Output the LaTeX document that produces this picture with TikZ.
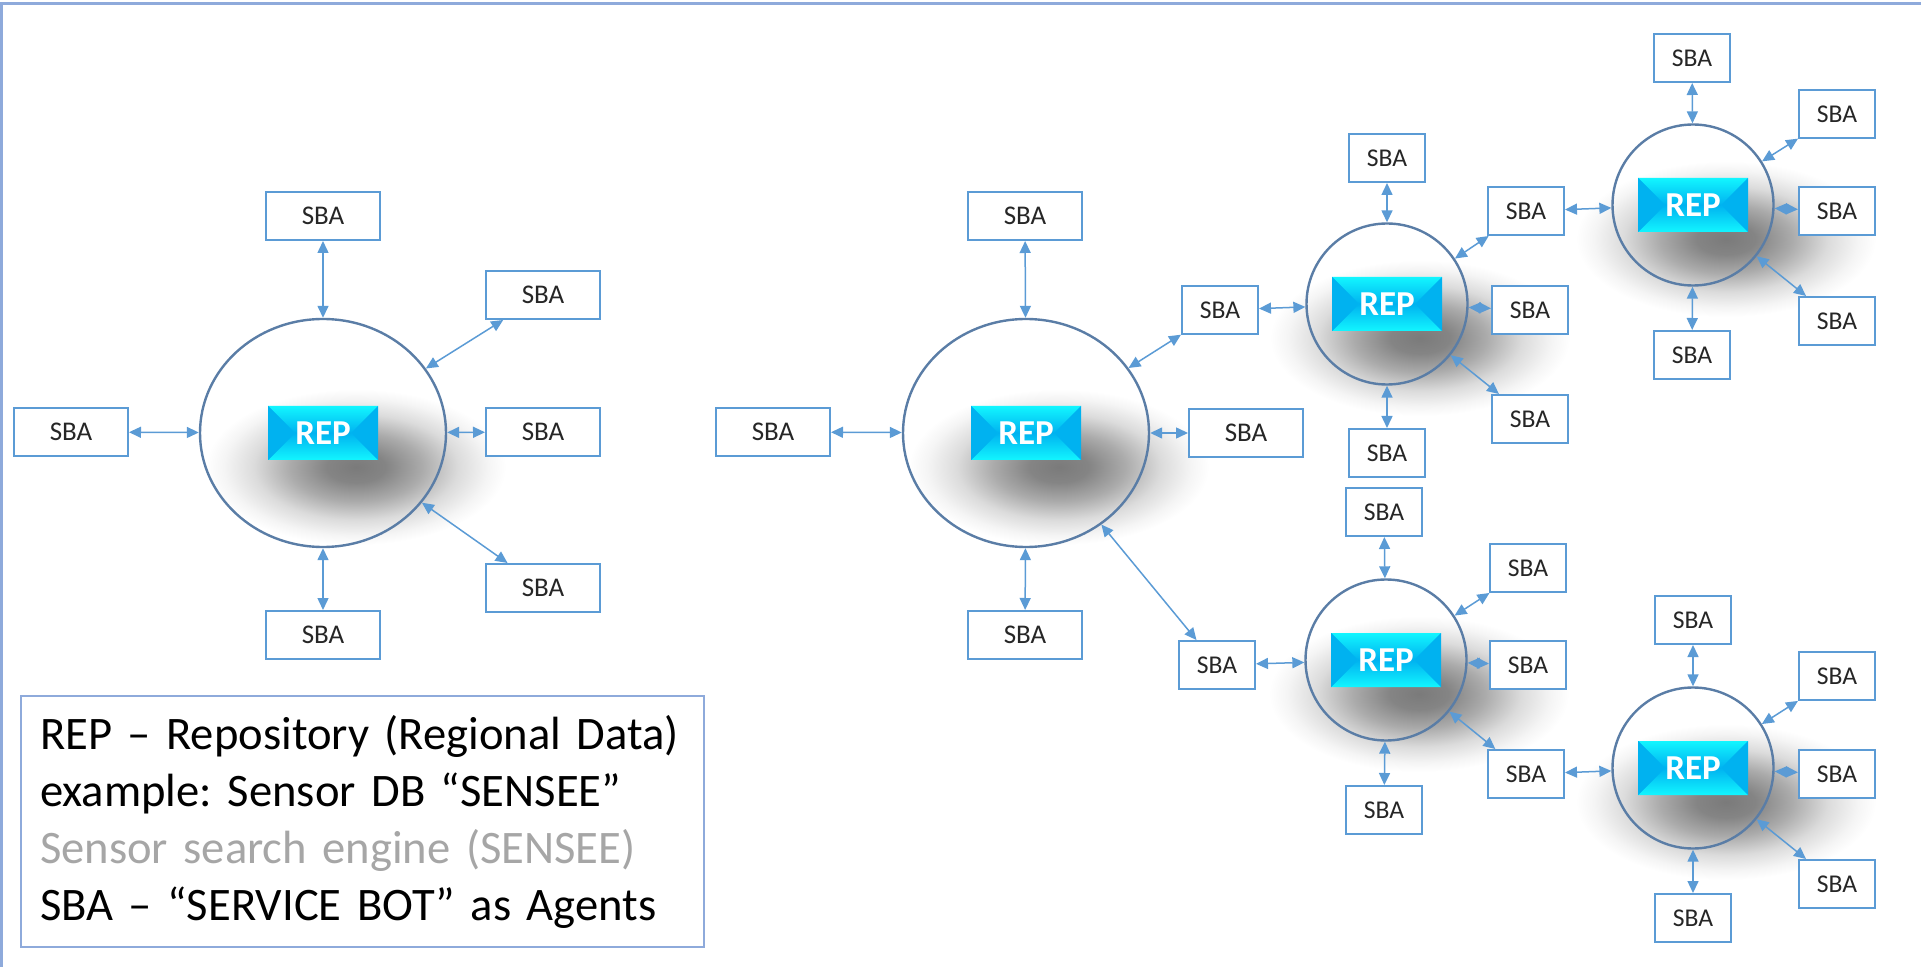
\documentclass[tikz,border=0pt]{standalone}
\usepackage{fontspec}
\setmainfont{Carlito}
\usepackage{xcolor}
\usetikzlibrary{arrows.meta,shapes.geometric}

\definecolor{ringblue}{HTML}{5A7DA6}
\definecolor{sbablue}{HTML}{5B9BD5}
\definecolor{sbatext}{HTML}{262626}
\definecolor{frameblue}{HTML}{8EAADB}
\definecolor{notegray}{HTML}{A6A6A6}
\definecolor{repdeep}{HTML}{00B2F0}
\definecolor{repmid}{HTML}{00C2F5}
\definecolor{replight}{HTML}{12F6FF}

\pgfdeclareradialshading{softshadow}{\pgfpoint{0bp}{0bp}}{%
    color(0bp)=(black!52); color(5bp)=(black!48); color(11bp)=(black!33);
    color(17bp)=(black!14); color(22bp)=(black!4); color(25bp)=(white);
    color(50bp)=(white)}

\begin{document}
\begin{tikzpicture}[
    x=0.5pt, y=-0.5pt,
    ring/.style={
        draw=ringblue,
        line width=1.2pt,
        ellipse,
        inner sep=0pt
    },
    bigring/.style={ring, minimum width=123pt, minimum height=114pt},
    smallring/.style={ring, minimum width=80.5pt, minimum height=80.5pt},
    shadowblob/.style={
        ellipse,
        inner sep=0pt,
        minimum width=150pt,
        minimum height=78pt,
        shade,
        shading=softshadow
    },
    replabel/.style={
        rectangle,
        inner sep=0pt,
        minimum width=55pt,
        minimum height=27pt,
        fill=repmid,
        text=white,
        font=\bfseries\fontsize{17.5pt}{20pt}\selectfont,
        path picture={
            \coordinate (lv) at ([xshift=13.5pt]path picture bounding box.west);
            \coordinate (rv) at ([xshift=-13.5pt]path picture bounding box.east);
            \shade[top color=replight, bottom color=repdeep]
                (path picture bounding box.north west) -- (path picture bounding box.north east)
                -- (rv) -- (lv) -- cycle;
            \shade[top color=repdeep, bottom color=replight]
                (path picture bounding box.south west) -- (path picture bounding box.south east)
                -- (rv) -- (lv) -- cycle;
            \fill[repdeep] (path picture bounding box.north west) -- (lv)
                -- (path picture bounding box.south west) -- cycle;
            \fill[repdeep] (path picture bounding box.north east) -- (rv)
                -- (path picture bounding box.south east) -- cycle;
        }
    },
    sba/.style={
        draw=sbablue,
        line width=1pt,
        fill=white,
        inner sep=0pt,
        minimum width=38pt,
        minimum height=24pt,
        text=sbatext,
        font=\fontsize{12.8pt}{15pt}\selectfont
    },
    bigsba/.style={sba, minimum width=57pt, font=\fontsize{13.5pt}{16pt}\selectfont},
    link/.style={
        <->,
        >={Triangle[length=6pt, width=5.5pt]},
        draw=sbablue,
        line width=0.75pt
    },
    legend/.style={
        draw=frameblue,
        line width=1pt,
        align=left,
        text width=322pt,
        inner xsep=9.75pt,
        minimum height=125.5pt,
        font=\fontsize{23.3pt}{28.5pt}\selectfont\frenchspacing
    }
]
\useasboundingbox (0,0) rectangle (1921,967);
\draw[frameblue, line width=1.5pt] (1,967) -- (1,4) -- (1921,4);

\coordinate (cL) at (323,433);
\coordinate (cM) at (1026,433);
\coordinate (cA) at (1387,304);
\coordinate (cB) at (1693,205);
\coordinate (cC) at (1386,660);
\coordinate (cD) at (1693,768);

\foreach \c in {L,M,A,B,C,D}
    \node[shadowblob] (sh\c) at ([shift={(33,34)}]c\c) {};

\node[bigring] (repL) at (cL) {};
\node[bigring] (repM) at (cM) {};
\node[smallring] (repA) at (cA) {};
\node[smallring] (repB) at (cB) {};
\node[smallring] (repC) at (cC) {};
\node[smallring] (repD) at (cD) {};

\node[bigsba] (sL1) at (323,216) {SBA};
\node[bigsba] (sL2) at (543,295) {SBA};
\node[bigsba] (sL3) at (71,432) {SBA};
\node[bigsba] (sL4) at (543,432) {SBA};
\node[bigsba] (sL5) at (543,588) {SBA};
\node[bigsba] (sL6) at (323,635) {SBA};

\node[bigsba] (sM1) at (1025,216) {SBA};
\node[bigsba] (sM2) at (773,432) {SBA};
\node[bigsba] (sM3) at (1246,433) {SBA};
\node[bigsba] (sM4) at (1025,635) {SBA};

\node[sba] (sA1) at (1387,158) {SBA};
\node[sba] (sA2) at (1220,310) {SBA};
\node[sba] (sA3) at (1530,310) {SBA};
\node[sba] (sA4) at (1530,419) {SBA};
\node[sba] (sA5) at (1387,453) {SBA};
\node[sba] (sA6) at (1526,211) {SBA};

\node[sba] (sB1) at (1692,58) {SBA};
\node[sba] (sB2) at (1837,114) {SBA};
\node[sba] (sB3) at (1837,211) {SBA};
\node[sba] (sB4) at (1837,321) {SBA};
\node[sba] (sB5) at (1692,355) {SBA};

\node[sba] (sC1) at (1384,512) {SBA};
\node[sba] (sC2) at (1528,568) {SBA};
\node[sba] (sC3) at (1528,665) {SBA};
\node[sba] (sC4) at (1217,665) {SBA};
\node[sba] (sC5) at (1384,810) {SBA};
\node[sba] (sC6) at (1526,774) {SBA};

\node[sba] (sD1) at (1693,620) {SBA};
\node[sba] (sD2) at (1837,676) {SBA};
\node[sba] (sD3) at (1837,774) {SBA};
\node[sba] (sD4) at (1837,884) {SBA};
\node[sba] (sD5) at (1693,918) {SBA};

\foreach \s in {sL1,sL2,sL3,sL4,sL5,sL6}
    \draw[link] (repL) -- (\s);
\foreach \s in {sM1,sM2,sM3,sM4,sA2,sC4}
    \draw[link] (repM) -- (\s);
\foreach \s in {sA1,sA2,sA3,sA4,sA5,sA6}
    \draw[link] (repA) -- (\s);
\foreach \s in {sA6,sB1,sB2,sB3,sB4,sB5}
    \draw[link] (repB) -- (\s);
\foreach \s in {sC1,sC2,sC3,sC4,sC5,sC6}
    \draw[link] (repC) -- (\s);
\foreach \s in {sC6,sD1,sD2,sD3,sD4,sD5}
    \draw[link] (repD) -- (\s);

\node[replabel] (lblL) at (repL) {REP};
\node[replabel] (lblM) at (repM) {REP};
\node[replabel] (lblA) at (repA) {REP};
\node[replabel] (lblB) at (repB) {REP};
\node[replabel] (lblC) at (repC) {REP};
\node[replabel] (lblD) at (repD) {REP};

\node[legend] (key) at (362,821.5) {REP – Repository (Regional Data)\\
example: Sensor DB “SENSEE”\\
\textcolor{notegray}{Sensor search engine (SENSEE)}\\
SBA – “SERVICE BOT” as Agents};

\end{tikzpicture}
\end{document}
